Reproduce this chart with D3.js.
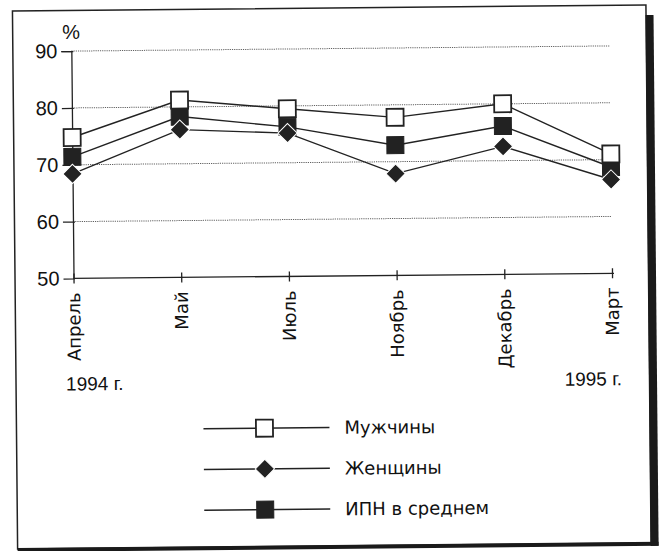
<!DOCTYPE html>
<html>
<head>
<meta charset="utf-8">
<script src="https://cdn.jsdelivr.net/npm/d3@7/dist/d3.min.js"></script>
<style>
  html, body { margin: 0; padding: 0; background: #fff; }
  svg { display: block; }
</style>
</head>
<body>
<svg id="chart" width="663" height="551"></svg>
<script>
// Months of the survey (April 1994 – March 1995)
const months = ["Апрель", "Май", "Июль", "Ноябрь", "Декабрь", "Март"];
// Index values, %
const men = [74.8, 81.2, 79.5, 77.8, 80.0, 71.0];
const women = [68.4, 76.0, 75.2, 67.9, 72.5, 66.5];
const average = [71.4, 78.3, 76.3, 72.9, 76.1, 68.7];
const yTicks = [50, 60, 70, 80, 90];
const gridTicks = [60, 70, 80, 90];
const yearLabels = ["1994 г.", "1995 г."];
const seriesNames = ["Мужчины", "Женщины", "ИПН в среднем"];

const ink = "#222";
const numFont = "'Liberation Sans', Arial, sans-serif";
const textFont = "'DejaVu Sans', sans-serif";

const svg = d3.select("#chart");
// the printed page sits slightly askew
const root = svg.append("g").attr("transform", "rotate(-0.55,331,275)");

// frame with a heavy shadow on the right and bottom
root.append("rect").attr("x", 15).attr("y", 8).attr("width", 633.5).attr("height", 538)
  .attr("fill", "none").attr("stroke", ink).attr("stroke-width", 1.5);
root.append("rect").attr("x", 648).attr("y", 18).attr("width", 8).attr("height", 531).attr("fill", "#1a1a1a");
root.append("rect").attr("x", 15).attr("y", 545).attr("width", 641).attr("height", 4).attr("fill", "#1a1a1a");

const x = d3.scalePoint().domain(months).range([73.5, 612]);
const y = d3.scaleLinear().domain([50, 90]).range([276, 48.6]);

// dotted gridlines
root.append("g").selectAll("line").data(gridTicks).join("line")
  .attr("x1", x.range()[0]).attr("x2", x.range()[1])
  .attr("y1", d => y(d)).attr("y2", d => y(d))
  .attr("stroke", "#606060").attr("stroke-width", 1).attr("stroke-dasharray", "1.2,1");

// y axis
const yAxis = root.append("g").attr("transform", `translate(${x.range()[0]},0)`)
  .call(d3.axisLeft(y).tickValues(yTicks).tickSize(10).tickPadding(4));
yAxis.select(".domain").attr("stroke", ink).attr("stroke-width", 1.3);
yAxis.selectAll(".tick line").attr("stroke", ink).attr("stroke-width", 1.3).attr("x1", 2);
yAxis.selectAll(".tick text").attr("font-family", numFont).attr("font-size", 20).attr("fill", "#111");
yAxis.selectAll(".tick").filter(d => d === 50).select("line").remove();

// x axis
const xAxis = root.append("g").attr("transform", `translate(0,${y(50)})`)
  .call(d3.axisBottom(x).tickSize(5));
xAxis.select(".domain").attr("stroke", ink).attr("stroke-width", 1.3).attr("d", `M${x.range()[0]},0H${x.range()[1] + 2}`);
xAxis.selectAll(".tick line").attr("stroke", ink).attr("stroke-width", 1.3).attr("y1", -5).attr("y2", 5);
xAxis.selectAll(".tick text")
  .attr("font-family", textFont).attr("font-size", 18).attr("fill", "#111")
  .attr("text-anchor", "end").attr("transform", "rotate(-90)")
  .attr("x", -14).attr("y", 6).attr("dy", 0);

// unit label
root.append("text").attr("x", x.range()[0]).attr("y", 36.5)
  .attr("text-anchor", "middle").attr("font-family", numFont).attr("font-size", 20).attr("fill", "#111")
  .text("%");

// year labels under the first and last months
root.append("text").attr("x", 65).attr("y", 388)
  .attr("font-family", numFont).attr("font-size", 19).attr("fill", "#111").text(yearLabels[0]);
root.append("text").attr("x", 621).attr("y", 388).attr("text-anchor", "end")
  .attr("font-family", numFont).attr("font-size", 19).attr("fill", "#111").text(yearLabels[1]);

// series
const series = [
  { name: seriesNames[0], values: men, kind: "open" },
  { name: seriesNames[1], values: women, kind: "diamond" },
  { name: seriesNames[2], values: average, kind: "filled" }
];

const line = d3.line().x((d, i) => x(months[i])).y(d => y(d));
root.append("g").selectAll("path").data(series).join("path")
  .attr("d", s => line(s.values))
  .attr("fill", "none").attr("stroke", ink).attr("stroke-width", 1.4);

const squarePath = d3.symbol(d3.symbolSquare, 289)();
const diamondPath = d3.symbol(d3.symbolSquare, 185)();

function drawMarker(sel, kind) {
  if (kind === "open") {
    sel.append("path").attr("d", squarePath)
      .attr("fill", "#fff").attr("stroke", ink).attr("stroke-width", 1.8);
  } else if (kind === "filled") {
    sel.append("path").attr("d", squarePath)
      .attr("fill", "#222").attr("stroke", "#222").attr("stroke-width", 1);
  } else {
    sel.append("path").attr("d", diamondPath).attr("transform", "rotate(45)")
      .attr("fill", "#222").attr("stroke", "#fff").attr("stroke-width", 1);
  }
}

// averages underneath, then men, then women on top
const drawOrder = [series[2], series[0], series[1]];
drawOrder.forEach(s => {
  root.append("g").selectAll("g").data(s.values).join("g")
    .attr("transform", (d, i) => `translate(${x(months[i])},${y(d)})`)
    .each(function () { drawMarker(d3.select(this), s.kind); });
});

// legend
const legendY = d3.scalePoint().domain(seriesNames).range([427.5, 509]);
const legend = root.append("g").selectAll("g").data(series).join("g")
  .attr("transform", s => `translate(0,${legendY(s.name)})`);
legend.append("line").attr("x1", 202).attr("x2", 328).attr("y1", 0).attr("y2", 0)
  .attr("stroke", ink).attr("stroke-width", 1.4);
legend.append("g").attr("transform", "translate(263,0)")
  .each(function (s) { drawMarker(d3.select(this), s.kind); });
legend.append("text").attr("x", 343).attr("y", 0).attr("dy", "0.36em")
  .attr("font-family", textFont).attr("font-size", 18).attr("fill", "#111")
  .text(s => s.name);
</script>
</body>
</html>
